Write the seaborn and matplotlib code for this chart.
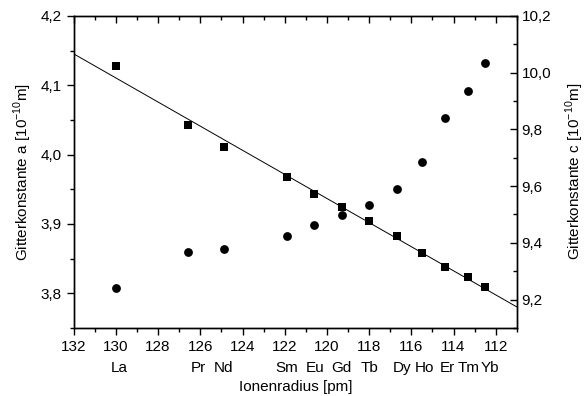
import numpy as np
import pandas as pd
import matplotlib
matplotlib.use("Agg")
import matplotlib.pyplot as plt
import seaborn as sns
from matplotlib.ticker import MultipleLocator, FuncFormatter

# ionic radius [pm] and lattice constants
elements = ["La", "Pr", "Nd", "Sm", "Eu", "Gd", "Tb", "Dy", "Ho", "Er", "Tm", "Yb"]
radius = [130.0, 126.6, 124.9, 121.9, 120.6, 119.3, 118.0, 116.7, 115.5, 114.4, 113.3, 112.5]
const_a = [4.127, 4.043, 4.011, 3.967, 3.943, 3.924, 3.904, 3.882, 3.858, 3.838, 3.824, 3.809]
const_c = [9.239, 9.367, 9.377, 9.424, 9.462, 9.499, 9.532, 9.590, 9.686, 9.841, 9.935, 10.033]
# where the element symbols sit under the axis
label_pos = [129.85, 126.1, 124.9, 121.9, 120.55, 119.3, 118.0, 116.45, 115.4, 114.3, 113.3, 112.3]

df = pd.DataFrame({"element": elements, "r": radius, "a": const_a, "c": const_c})

sns.set_style("ticks")
plt.rcParams["font.family"] = ["Liberation Sans", "DejaVu Sans"]
plt.rcParams["font.size"] = 11
for key in ("text.color", "axes.labelcolor", "xtick.color", "ytick.color"):
    plt.rcParams[key] = "black"

fig = plt.figure(figsize=(5.87, 3.96), dpi=100)
ax = fig.add_axes([0.1255, 0.172, 0.755, 0.788])
ax2 = ax.twinx()

# linear fit of a over the whole x range
xlim = (132, 111)
k, b = np.polyfit(df["r"], df["a"], 1)
xfit = np.array(xlim)
sns.lineplot(x=xfit, y=k * xfit + b, ax=ax, color="black", lw=0.7)

sns.scatterplot(data=df, x="r", y="a", ax=ax, marker="s", s=38, color="black",
                edgecolor="black", linewidth=0)
sns.scatterplot(data=df, x="r", y="c", ax=ax2, marker="o", s=40, color="black",
                edgecolor="black", linewidth=0)

ax.set_xlim(*xlim)
ax.set_ylim(3.75, 4.2)
ax2.set_ylim(9.1, 10.2)

comma = lambda fmt: FuncFormatter(lambda v, p: (fmt % v).replace(".", ","))
ax.xaxis.set_major_locator(MultipleLocator(2))
ax.xaxis.set_minor_locator(MultipleLocator(1))
ax.yaxis.set_major_locator(MultipleLocator(0.1))
ax.yaxis.set_minor_locator(MultipleLocator(0.05))
ax.yaxis.set_major_formatter(comma("%.1f"))
ax2.yaxis.set_major_locator(MultipleLocator(0.2))
ax2.yaxis.set_minor_locator(MultipleLocator(0.1))
ax2.yaxis.set_major_formatter(comma("%.1f"))

ax.tick_params(axis="both", which="major", length=5, width=1, labelsize=11)
ax.tick_params(axis="both", which="minor", length=3, width=1)
ax.tick_params(axis="x", top=True, which="both")
ax.tick_params(axis="x", which="both", direction="out")
# top ticks point into the box
for t in ax.xaxis.get_major_ticks() + ax.xaxis.get_minor_ticks():
    t.tick2line.set_marker(3)
ax2.tick_params(axis="y", which="major", direction="in", length=5, width=1, labelsize=11)
ax2.tick_params(axis="y", which="minor", direction="in", length=3, width=1)

for a_ in (ax, ax2):
    for s in a_.spines.values():
        s.set_visible(True)
        s.set_linewidth(1)
        s.set_color("black")

ax.set_xlabel("Ionenradius [pm]", labelpad=19)
ax.set_ylabel("Gitterkonstante a [10$^{\\mathregular{-10}}$m]", labelpad=5)
ax2.set_ylabel("Gitterkonstante c [10$^{\\mathregular{-10}}$m]", labelpad=9)

# element symbols under the tick labels
for el, r in zip(df["element"], label_pos):
    ax.text(r, -0.105, el, transform=ax.get_xaxis_transform(), ha="center",
            va="top", fontsize=11)

fig.savefig("out.png", dpi=100)
